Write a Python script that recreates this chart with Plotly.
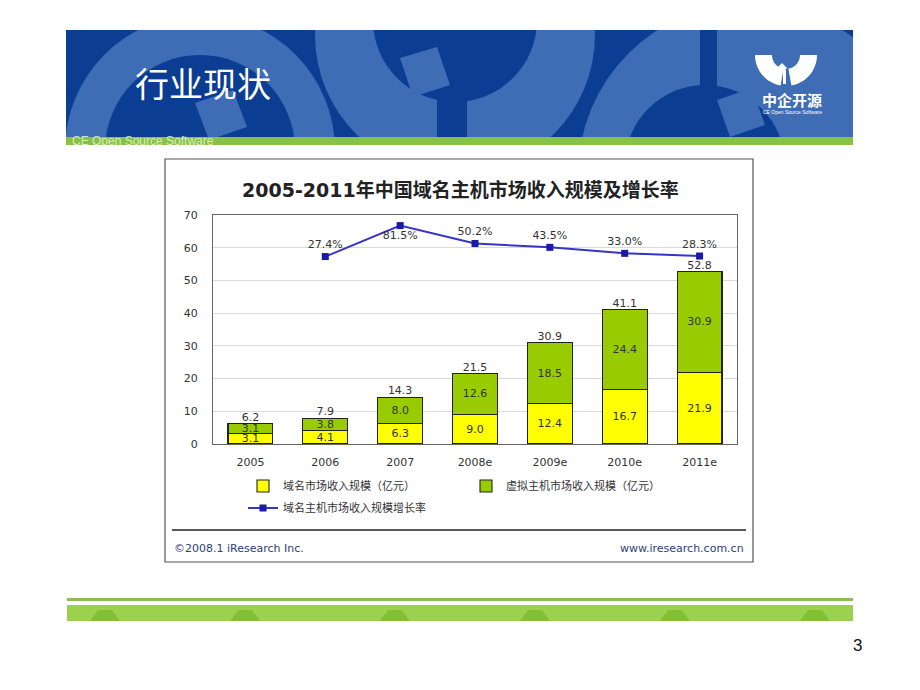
import math
import plotly.graph_objects as go

# ---------------- data ----------------
years = ["2005", "2006", "2007", "2008e", "2009e", "2010e", "2011e"]
domain_rev = [3.1, 4.1, 6.3, 9.0, 12.4, 16.7, 21.9]      # 域名市场收入规模（亿元）
hosting_rev = [3.1, 3.8, 8.0, 12.6, 18.5, 24.4, 30.9]    # 虚拟主机市场收入规模（亿元）
total_rev = [6.2, 7.9, 14.3, 21.5, 30.9, 41.1, 52.8]
growth_years = ["2006", "2007", "2008e", "2009e", "2010e", "2011e"]
growth_rate = [27.4, 81.5, 50.2, 43.5, 33.0, 28.3]       # 增长率 %
growth_pos = ["top center", "bottom center", "top center", "top center", "top center", "top center"]

W, H = 920, 690
OX, OY = 8, 8   # page body margin of the html page
def X(px): return (px - OX) / W
def Y(py): return 1 - (py - OY) / H

DARK = "#0B3D93"
LIGHT = "#3E6CB5"

shapes = []
def rect(x0, y0, x1, y1, fill, line=None, lw=0):
    shapes.append(dict(type="rect", xref="paper", yref="paper", layer="below",
                       x0=X(x0), x1=X(x1), y0=Y(y1), y1=Y(y0),
                       fillcolor=fill, line=dict(color=line or fill, width=lw)))
def circ(cx, cy, r, fill):
    shapes.append(dict(type="circle", xref="paper", yref="paper", layer="below",
                       x0=X(cx - r), x1=X(cx + r), y0=Y(cy + r), y1=Y(cy - r),
                       fillcolor=fill, line=dict(width=0)))
def poly(pts, fill):
    p = "M" + " L".join(f"{X(a):.5f},{Y(b):.5f}" for a, b in pts) + " Z"
    shapes.append(dict(type="path", xref="paper", yref="paper", layer="below",
                       path=p, fillcolor=fill, line=dict(width=0)))
def ring(cx, cy, R, r, a0, a1, fill, n=40):
    outer = [(cx + R * math.cos(math.radians(a0 + (a1 - a0) * i / n)),
              cy + R * math.sin(math.radians(a0 + (a1 - a0) * i / n))) for i in range(n + 1)]
    inner = [(cx + r * math.cos(math.radians(a1 - (a1 - a0) * i / n)),
              cy + r * math.sin(math.radians(a1 - (a1 - a0) * i / n))) for i in range(n + 1)]
    poly(outer + inner, fill)

# banner
rect(66, 30, 853, 145, DARK)
circ(200, 150, 135, LIGHT); circ(200, 150, 95, DARK)
poly([(195, 103), (233, 90), (247, 127), (209, 140)], LIGHT)
circ(455, 35, 140, LIGHT); circ(455, 20, 82, DARK)
rect(437, 95, 467, 145, DARK)
poly([(400, 58), (437, 47), (450, 85), (413, 97)], LIGHT)
circ(750, 175, 172, LIGHT); circ(705, 165, 80, DARK)
rect(700, 30, 717, 95, DARK)
poly([(717, 100), (752, 88), (765, 125), (730, 137)], LIGHT)
# masks
rect(0, 0, 930, 30, "white")
rect(0, 0, 66, 145, "white")
rect(853, 0, 930, 145, "white")
rect(0, 145, 930, 700, "white")
# green strip
rect(66, 137, 853, 145, "#86C245")
# logo icon
ring(786, 55, 31, 14, 100, 180, "white", 20)
ring(786, 55, 31, 14, 0, 80, "white", 20)
poly([(782, 63), (787, 68), (782, 73), (777, 68)], "white")
rect(783, 70, 786, 84, "white")
# chart box
rect(165, 159, 753, 562, "white", "#555555", 1.2)
shapes.append(dict(type="line", xref="paper", yref="paper", layer="below",
                   x0=X(172), x1=X(746), y0=Y(530), y1=Y(530),
                   line=dict(color="#222222", width=1.6)))
# footer stripes
rect(67, 598, 853, 601, "#8DBB5C")
rect(67, 605, 853, 621, "#9CD150")
for x0 in [90, 230, 380, 520, 660, 800]:
    poly([(x0, 621), (x0 + 8, 610), (x0 + 22, 610), (x0 + 30, 621)], "#84BF33")

fig = go.Figure()
tickfont = dict(family="DejaVu Sans", size=11, color="#333333")
cjk = "DejaVu Sans, Noto Sans CJK SC"

fig.add_trace(go.Bar(x=years, y=domain_rev, name="域名市场收入规模（亿元）",
                     marker=dict(color="#FFFF00", line=dict(color="#222222", width=1.1)),
                     text=domain_rev, texttemplate="%{y:.1f}", textposition="inside",
                     insidetextanchor="middle", textangle=0,
                     textfont=dict(family="DejaVu Sans", size=11, color="#333333"),
                     hoverinfo="skip", legend="legend"))
fig.add_trace(go.Bar(x=years, y=hosting_rev, name="虚拟主机市场收入规模（亿元）",
                     marker=dict(color="#99CC00", line=dict(color="#222222", width=1.1)),
                     text=hosting_rev, texttemplate="%{y:.1f}", textposition="inside",
                     insidetextanchor="middle", textangle=0,
                     textfont=dict(family="DejaVu Sans", size=11, color="#333333"),
                     hoverinfo="skip", legend="legend"))
fig.add_trace(go.Scatter(x=years, y=total_rev, mode="text", text=[f"{v:.1f}" for v in total_rev],
                         textposition="top center",
                         textfont=dict(family="DejaVu Sans", size=11, color="#333333"),
                         showlegend=False, hoverinfo="skip"))
fig.add_trace(go.Scatter(x=growth_years, y=growth_rate, yaxis="y2", name="域名主机市场收入规模增长率",
                         mode="lines+markers+text", text=[f"{v:.1f}%" for v in growth_rate],
                         textposition=growth_pos,
                         textfont=dict(family="DejaVu Sans", size=11, color="#333333"),
                         line=dict(color="#3535C8", width=2),
                         marker=dict(symbol="square", size=7, color="#1A1AA8"),
                         hoverinfo="skip", legend="legend2"))

annotations = [
    dict(text="行业现状", x=X(203), y=Y(82), font=dict(family="Noto Sans CJK SC", size=34, color="white")),
    dict(text="CE Open Source Software", x=X(70), y=Y(141), xanchor="left",
         font=dict(family="Liberation Sans", size=12, color="rgba(230,245,215,0.85)")),
    dict(text="<b>中企开源</b>", x=X(792), y=Y(100), font=dict(family="Noto Sans CJK SC", size=15, color="white")),
    dict(text="CE Open Source Software", x=X(792), y=Y(112), font=dict(family="Liberation Sans", size=5, color="white")),
    dict(text="<b>2005-2011年中国域名主机市场收入规模及增长率</b>", x=X(460), y=Y(190),
         font=dict(family=cjk, size=19, color="#222222")),
    dict(text="©2008.1 iResearch Inc.", x=X(172), y=Y(548), xanchor="left",
         font=dict(family="DejaVu Sans", size=11, color="#2E3E78")),
    dict(text="www.iresearch.com.cn", x=X(746), y=Y(548), xanchor="right",
         font=dict(family="DejaVu Sans", size=11, color="#2E3E78")),
    dict(text="3", x=X(857), y=Y(645), font=dict(family="Liberation Sans", size=17, color="#111111")),
]
for a in annotations:
    a.setdefault("xanchor", "center")
    a.update(xref="paper", yref="paper", showarrow=False, yanchor="middle")

fig.update_layout(
    width=W, height=H, margin=dict(l=0, r=0, t=0, b=0, pad=0, autoexpand=False),
    paper_bgcolor="white", plot_bgcolor="rgba(0,0,0,0)",
    barmode="stack", bargap=0.4,
    shapes=shapes, annotations=annotations,
    uniformtext=dict(minsize=11, mode="show"),
    xaxis=dict(domain=[X(213), X(737)], type="category", range=[-0.5, 6.5], automargin=False,
               showline=True, linecolor="#666666", linewidth=1, mirror=True,
               showgrid=False, ticks="", tickfont=tickfont, ticklabelstandoff=8),
    yaxis=dict(domain=[Y(444), Y(215)], range=[0, 70], dtick=10, automargin=False,
               showgrid=True, gridcolor="#DADADA", gridwidth=1,
               showline=True, linecolor="#666666", linewidth=1, mirror=True,
               zeroline=False, ticks="", tickfont=tickfont, ticklabelstandoff=12),
    yaxis2=dict(overlaying="y", range=[-300, 100], visible=False, automargin=False),
    legend=dict(orientation="h", x=X(243), xanchor="left", y=Y(486), yanchor="middle",
                entrywidth=178, entrywidthmode="pixels",
                font=dict(family=cjk, size=11, color="#333333"), bgcolor="rgba(0,0,0,0)",
                borderwidth=0, traceorder="normal"),
    legend2=dict(orientation="h", x=X(243), xanchor="left", y=Y(508), yanchor="middle",
                 font=dict(family=cjk, size=11, color="#333333"), bgcolor="rgba(0,0,0,0)",
                 borderwidth=0),
    showlegend=True,
)

fig.write_html("out.html")
